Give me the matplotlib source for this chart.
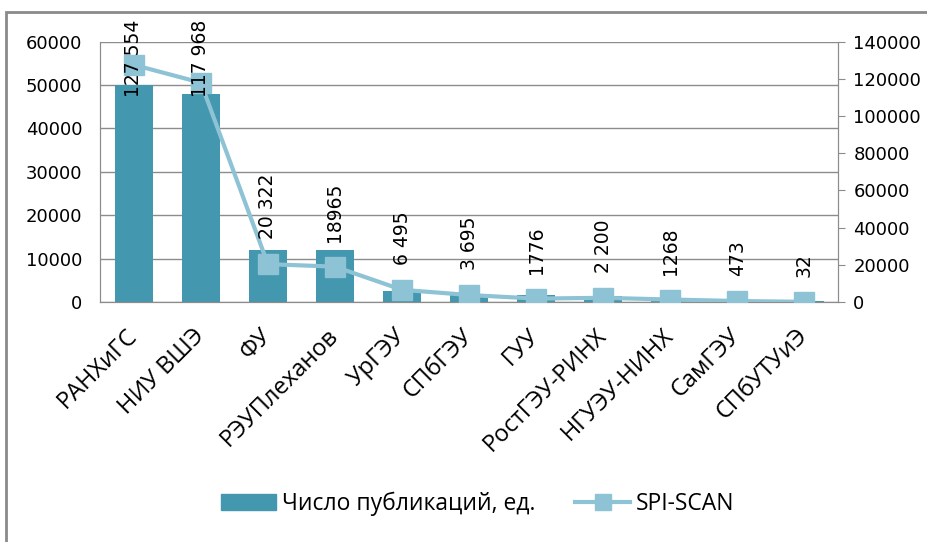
import matplotlib.pyplot as plt
from matplotlib.patches import Rectangle
import matplotlib.transforms as mtransforms

universities = ["РАНХиГС", "НИУ ВШЭ", "ФУ", "РЭУПлеханов", "УрГЭУ", "СПбГЭУ",
                "ГУУ", "РостГЭУ-РИНХ", "НГУЭУ-НИНХ", "СамГЭУ", "СПбУТУиЭ"]
publications = [50000, 48000, 12000, 12000, 2500, 1900, 1600, 1400, 800, 500, 200]
spi_scan = [127554, 117968, 20322, 18965, 6495, 3695, 1776, 2200, 1268, 473, 32]
spi_labels = ["127 554", "117 968", "20 322", "18965", "6 495", "3 695",
              "1776", "2 200", "1268", "473", "32"]

bar_color = "#4397ae"
line_color = "#8ec3d5"
grid_color = "#8c8c8c"

fig = plt.figure(figsize=(9.28, 5.42), dpi=100)
ax = fig.add_axes([0.108, 0.443, 0.795, 0.48])
ax2 = ax.twinx()

x = list(range(len(universities)))
ax.bar(x, publications, width=0.57, color=bar_color, zorder=2)
ax.set_ylim(0, 60000)
ax.set_yticks(range(0, 60001, 10000))
ax.set_xlim(-0.5, len(universities) - 0.5)
ax.yaxis.grid(True, color=grid_color, lw=1, zorder=0)
ax.set_axisbelow(True)
ax.tick_params(axis="y", length=0, labelsize=13, pad=13)
ax.set_xticks(x)
ax.set_xticklabels(universities, rotation=45, ha="right", va="center",
                   rotation_mode="anchor", fontsize=17, family="Open Sans")
ax.tick_params(axis="x", length=0, pad=22)

ax2.plot(x, spi_scan, color=line_color, lw=3, marker="s", markersize=14, zorder=3)
ax2.set_ylim(0, 140000)
ax2.set_yticks(range(0, 140001, 20000))
ax2.tick_params(axis="y", length=5, color=grid_color, labelsize=13, pad=6)

for a in (ax, ax2):
    a.spines["top"].set_visible(False)
    for s in ("left", "right", "bottom"):
        a.spines[s].set_color(grid_color)

# value labels of SPI-SCAN, kept inside the chart area
trans = mtransforms.blended_transform_factory(ax2.transData, ax2.transAxes)
for xi, v, lab in zip(x, spi_scan, spi_labels):
    if v > 100000:
        ax2.text(xi, 1.085, lab, transform=trans, rotation=90, ha="center",
                 va="top", fontsize=13.5, zorder=5)
    else:
        ax2.annotate(lab, (xi, v), xytext=(0, 18), textcoords="offset points",
                     rotation=90, ha="center", va="bottom", fontsize=13.5, zorder=5)

# legend
handles = [Rectangle((0, 0), 1, 1, color=bar_color),
           plt.Line2D([], [], color=line_color, lw=3, marker="s", markersize=12)]
fig.legend(handles, ["Число публикаций, ед.", "SPI-SCAN"], loc="center",
           bbox_to_anchor=(0.515, 0.07), ncol=2, frameon=False,
           handlelength=2.4, handletextpad=0.25, columnspacing=1.75,
           prop={"family": "Open Sans", "size": 16.5})

# outer chart border
fig.patches.append(Rectangle((0.006, -0.1), 1.2, 1.078, transform=fig.transFigure,
                             fill=False, edgecolor="#8a8a8a", lw=2))

fig.savefig("out.png", dpi=100)
